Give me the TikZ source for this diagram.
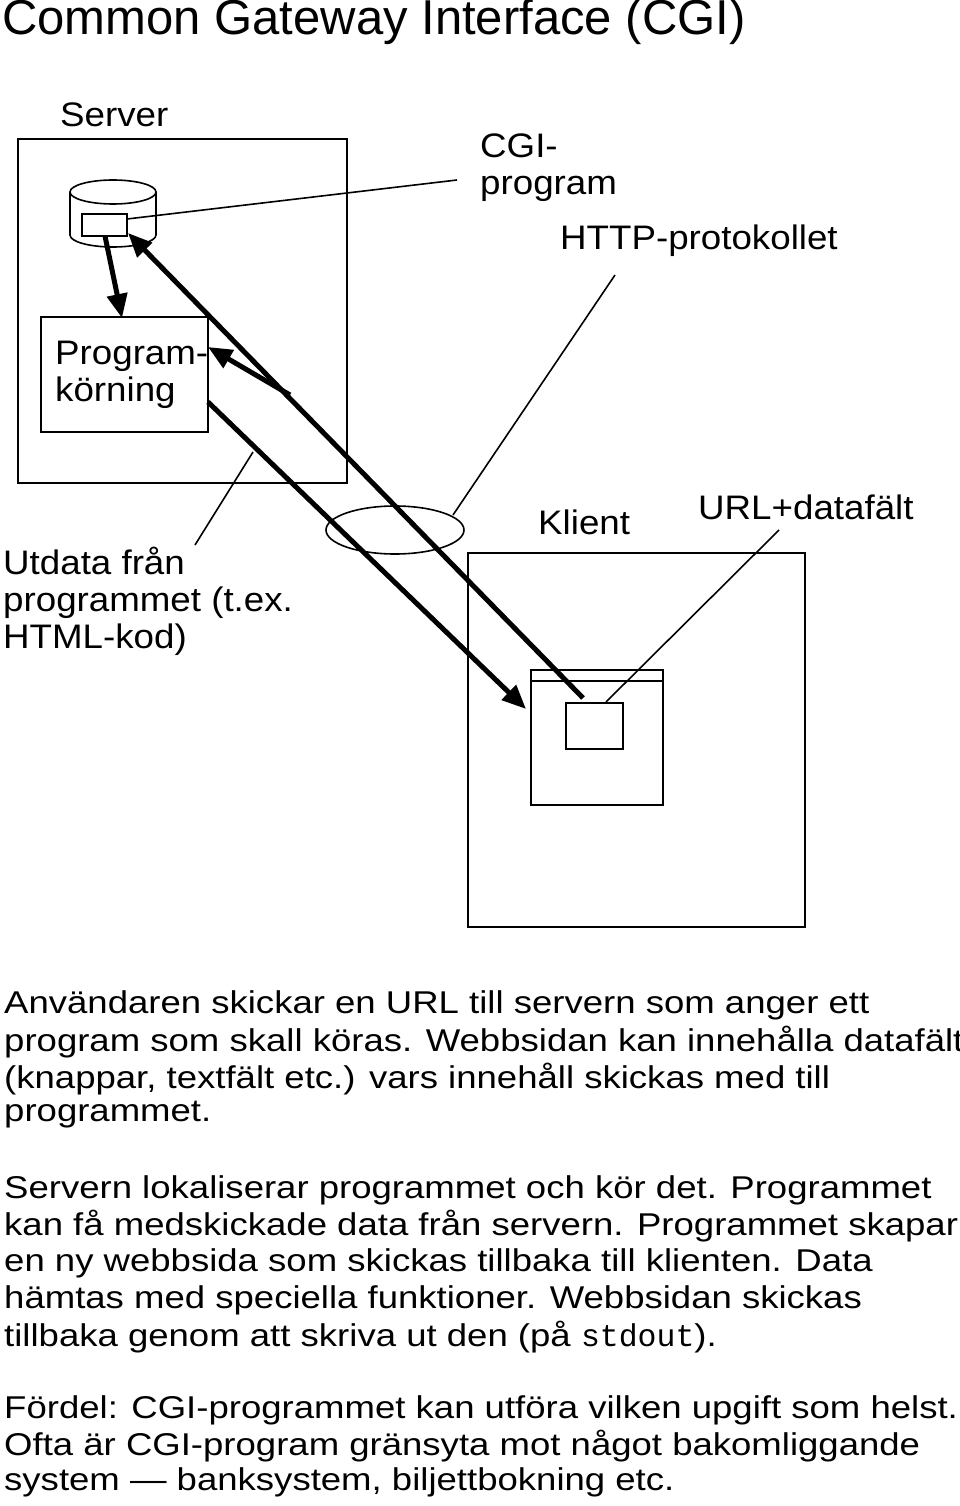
\documentclass[tikz,border=0pt]{standalone}
\usepackage{fontspec}
\setmainfont{Liberation Sans}
\setmonofont{Liberation Mono}
\newfontfamily\bodyfont[FakeStretch=1.16]{Liberation Sans}
\newfontfamily\lblfont[FakeStretch=1.08]{Liberation Sans}
\usetikzlibrary{shapes.geometric,arrows.meta}
\begin{document}
\begin{tikzpicture}[x=1pt,y=-1pt,
  ln/.style={line width=1.6pt},
  tk/.style={line width=5pt},
  arr/.style={tk,-{Triangle[length=24pt,width=20pt]}},
  lbl/.style={font=\lblfont\fontsize{34}{37}\selectfont,inner sep=0pt,anchor=west,align=left},
  body/.style={font=\bodyfont\fontsize{31.5}{36.5}\selectfont,inner sep=0pt,anchor=west}]
\useasboundingbox (0,0) rectangle (960,1506);
\node[font=\fontsize{49}{52}\selectfont,inner sep=0pt,anchor=west] (title) at (2,22) {Common Gateway Interface (CGI)};
% server
\draw[ln] (18,139) rectangle (347,483);
\node[lbl] (lserver) at (60,115) {Server};
% cylinder
\draw[ln,fill=white] (70,192) -- (70,235) arc[start angle=180,end angle=0,x radius=43,y radius=12] -- (156,192);
\draw[ln] (113,192) ellipse[x radius=43,y radius=12];
\node[draw,ln,minimum width=45pt,minimum height=22pt,inner sep=0pt] (irect) at (104.5,225) {};
\node[draw,ln,minimum width=167pt,minimum height=115pt,inner sep=0pt] (prog) at (124.5,374.5) {};
\node[lbl] (lprog) at (55,375) {Program-\\körning};
% client
\draw[ln] (468,553) rectangle (805,927);
\node[draw,ln,minimum width=132pt,minimum height=135pt,inner sep=0pt] (win) at (597,737.5) {};
\draw[ln] (win.north west) ++(0,12) -- ++(132,0);
\node[draw,ln,minimum width=57pt,minimum height=46pt,inner sep=0pt] (srect) at (594.5,726) {};
\node[lbl] (lklient) at (538,522) {Klient};
% ellipse
\node[draw,ln,ellipse,minimum width=138pt,minimum height=48pt,inner sep=0pt] (ell) at (395,530) {};
% labels
\node[lbl] (lcgi) at (480,168) {CGI-\\program};
\node[lbl] (lhttp) at (560,241) {HTTP-protokollet};
\node[lbl] (lurl) at (698,507) {URL+datafält};
\node[lbl] (lut) at (3,601) {Utdata från\\programmet (t.ex.\\HTML-kod)};
% arrows
\coordinate (a1s) at (105,236);
\coordinate (a1e) at (122,318);
\draw[arr] (a1s) -- (a1e);
\coordinate (a2s) at (583,698);
\coordinate (a2e) at (128,233);
\draw[arr] (a2s) -- (a2e);
\coordinate (a3s) at (290,395);
\coordinate (a3e) at (208,347);
\draw[arr] (a3s) -- (a3e);
\coordinate (a4s) at (208,402);
\coordinate (a4e) at (526,709);
\draw[arr] (a4s) -- (a4e);
% thin pointers
\coordinate (cgiend) at (457,180);
\draw[ln] (127,219) -- (cgiend);
\coordinate (httpend) at (615,275);
\draw[ln] (453,515) -- (httpend);
\coordinate (urlend) at (779,530);
\draw[ln] (606,702) -- (urlend);
\coordinate (ut1) at (195,545);
\coordinate (ut2) at (253,452);
\draw[ln] (ut1) -- (ut2);
% body text
\node[body] (b1) at (4,1005) {Användaren skickar en URL till servern som anger ett};
\node[body] (b2) at (4,1042) {program som skall köras. Webbsidan kan innehålla datafält};
\node[body] (b3) at (4,1079) {(knappar, textfält etc.) vars innehåll skickas med till};
\node[body] (b4) at (4,1115) {programmet.};
\node[body] (b5) at (4,1190) {Servern lokaliserar programmet och kör det. Programmet};
\node[body] (b6) at (4,1226) {kan få medskickade data från servern. Programmet skapar};
\node[body] (b7) at (4,1263) {en ny webbsida som skickas tillbaka till klienten. Data};
\node[body] (b8) at (4,1300) {hämtas med speciella funktioner. Webbsidan skickas};
\node[body] (b9) at (4,1337) {tillbaka genom att skriva ut den (på \texttt{stdout}).};
\node[body] (b10) at (4,1410) {Fördel: CGI-programmet kan utföra vilken upgift som helst.};
\node[body] (b11) at (4,1446) {Ofta är CGI-program gränsyta mot något bakomliggande};
\node[body] (b12) at (4,1482) {system — banksystem, biljettbokning etc.};
\end{tikzpicture}
\end{document}
